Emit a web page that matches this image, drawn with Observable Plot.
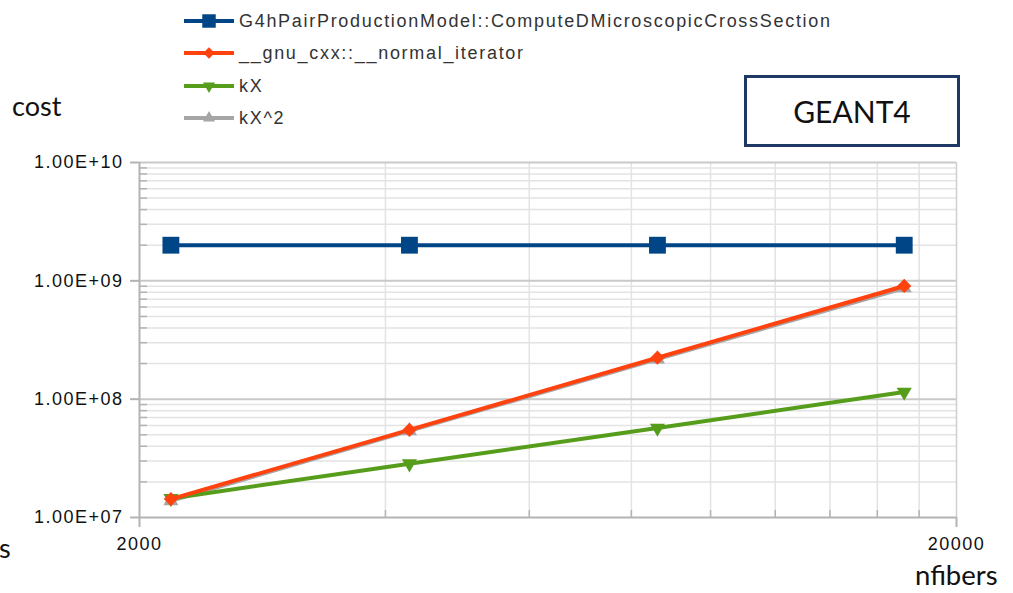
<!DOCTYPE html>
<html>
<head>
<meta charset="utf-8">
<script src="https://cdn.jsdelivr.net/npm/d3@7"></script>
<script src="https://cdn.jsdelivr.net/npm/@observablehq/plot@0.6"></script>
<style>
  body { margin: 0; background: #fff; }
  #wrap { position: relative; width: 1013px; height: 593px; overflow: hidden; background: #fff; }
  #chart { position: absolute; left: 0; top: 0; }
  .legend-row { position: absolute; left: 183px; height: 24px; display: flex; align-items: center;
    font-family: "Liberation Sans", Arial, sans-serif; font-size: 18px; letter-spacing: 1.7px; color: #333; white-space: nowrap; }
  .legend-row svg { display: block; margin-right: 4px; }
  .note { position: absolute; font-family: Lato, "Open Sans", sans-serif; color: #111; white-space: nowrap; line-height: 1; }
  #badge { position: absolute; left: 744px; top: 75px; width: 210px; height: 66px; border: 3px solid #1f3864;
    font-family: Lato, "Open Sans", sans-serif; font-size: 30px; color: #111;
    display: flex; align-items: center; justify-content: center; }
</style>
</head>
<body>
<div id="wrap">
  <div id="chart"></div>
  <div id="legend"></div>
  <div class="note" style="left:12px; top:92px; font-size:27px;">cost</div>
  <div class="note" style="left:-1px; top:534px; font-size:27px;">s</div>
  <div class="note" style="left:915px; top:561px; font-size:27.5px;">nfibers</div>
  <div id="badge">GEANT4</div>
</div>
<script>
// Problem size (number of fibers) and measured cost per function
const nfibers = [2185, 4280, 8610, 17260];
const computeDCost = [2.0e9, 2.0e9, 2.0e9, 2.0e9];
const normalIterCost = [1.43e7, 5.5e7, 2.24e8, 9.05e8];
const kXCost = [1.45e7, 2.85e7, 5.7e7, 1.15e8];
const kX2Cost = [1.38e7, 5.4e7, 2.18e8, 8.7e8];

const seriesNames = [
  "G4hPairProductionModel::ComputeDMicroscopicCrossSection",
  "__gnu_cxx::__normal_iterator",
  "kX",
  "kX^2"
];
const seriesValues = [computeDCost, normalIterCost, kXCost, kX2Cost];
const seriesColors = ["#004586", "#ff420e", "#579d1c", "#a6a6a6"];
const seriesSymbols = ["square", "diamond2", "triangle", "triangle"];
const seriesRotate = [0, 0, 180, 0];
const seriesR = [9.5, 6.4, 5.6, 5.6];

// Axis ticks and grid positions
const yMajorTicks = [1e7, 1e8, 1e9, 1e10];
const yMinorTicks = [2e7, 3e7, 4e7, 5e7, 6e7, 7e7, 8e7, 9e7,
                     2e8, 3e8, 4e8, 5e8, 6e8, 7e8, 8e8, 9e8,
                     2e9, 3e9, 4e9, 5e9, 6e9, 7e9, 8e9, 9e9];
const xMajorTicks = [2000, 20000];
const xMinorTicks = [4000, 6000, 8000, 10000, 12000, 14000, 16000, 18000];

const fmtSci = d => {
  const e = Math.round(Math.log10(d));
  const m = (d / Math.pow(10, e)).toFixed(2);
  return `${m}E+${String(e).padStart(2, "0")}`;
};

const rows = seriesNames.flatMap((name, i) =>
  nfibers.map((n, j) => ({series: i, name, nfibers: n, cost: seriesValues[i][j]})));

// drawing order: kX^2 at the back, then kX, normal_iterator, ComputeD on top
const order = [3, 2, 1, 0];
const seriesMarks = order.flatMap(i => {
  const data = rows.filter(r => r.series === i);
  return [
    Plot.line(data, {x: "nfibers", y: "cost", stroke: seriesColors[i], strokeWidth: 4}),
    Plot.dot(data, {x: "nfibers", y: "cost", symbol: seriesSymbols[i], fill: seriesColors[i],
      r: seriesR[i], rotate: seriesRotate[i], stroke: "none"})
  ];
});

const tickFont = {fontSize: 18, fontFamily: "Liberation Sans, Arial, sans-serif"};

const chart = Plot.plot({
  width: 1013,
  height: 593,
  marginLeft: 139,
  marginRight: 57,
  marginTop: 162,
  marginBottom: 76,
  style: {background: "transparent", fontFamily: "Liberation Sans, Arial, sans-serif", letterSpacing: "1.5px"},
  x: {type: "log", domain: [2000, 20000]},
  y: {type: "log", domain: [1e7, 1e10]},
  marks: [
    // grid
    Plot.ruleY(yMinorTicks, {stroke: "#e3e3e3", strokeWidth: 1.5}),
    Plot.ruleX(xMinorTicks, {stroke: "#e3e3e3", strokeWidth: 1.5}),
    Plot.ruleY(yMajorTicks.slice(1), {stroke: "#c9c9c9", strokeWidth: 2}),
    Plot.ruleX([20000], {stroke: "#cfcfcf", strokeWidth: 1.5}),
    // axis lines
    Plot.ruleX([2000], {stroke: "#b3b3b3", strokeWidth: 2}),
    Plot.ruleY([1e7], {stroke: "#b3b3b3", strokeWidth: 2}),
    // y axis: outer major ticks with labels, inner minor ticks
    Plot.axisY(yMajorTicks, {anchor: "left", tickSize: 9, tickPadding: 7, tickFormat: fmtSci,
      stroke: "#b3b3b3", strokeWidth: 2, fill: "#111", label: null, ...tickFont}),
    Plot.axisY(yMinorTicks, {anchor: "left", tickSize: 8, dx: 8, tickFormat: () => "",
      stroke: "#b3b3b3", strokeWidth: 1.5, label: null}),
    // x axis
    Plot.axisX(xMajorTicks, {anchor: "bottom", tickSize: 10, tickPadding: 10, tickFormat: d => String(d),
      stroke: "#b3b3b3", strokeWidth: 2, fill: "#111", label: null, ...tickFont}),
    Plot.axisX(xMinorTicks, {anchor: "bottom", tickSize: 7, dy: -7, tickFormat: () => "",
      stroke: "#b3b3b3", strokeWidth: 1.5, label: null}),
    ...seriesMarks
  ]
});
document.getElementById("chart").appendChild(chart);

// legend rows above the plot
const legend = document.getElementById("legend");
const legendTops = [9, 41, 74, 106];
seriesNames.forEach((name, i) => {
  const row = document.createElement("div");
  row.className = "legend-row";
  row.style.top = legendTops[i] + "px";
  const svg = d3.create("svg").attr("width", 52).attr("height", 24);
  svg.append("line").attr("x1", 1).attr("x2", 51).attr("y1", 12).attr("y2", 12)
    .attr("stroke", seriesColors[i]).attr("stroke-width", 4);
  const symType = {square: d3.symbolSquare, diamond2: d3.symbolDiamond2, triangle: d3.symbolTriangle}[seriesSymbols[i]];
  const rr = seriesR[i] * 0.8;
  svg.append("path").attr("d", d3.symbol(symType, Math.PI * rr * rr)())
    .attr("transform", `translate(26,12) rotate(${seriesRotate[i]})`)
    .attr("fill", seriesColors[i]);
  row.appendChild(svg.node());
  const label = document.createElement("span");
  label.textContent = name;
  row.appendChild(label);
  legend.appendChild(row);
});
</script>
</body>
</html>
